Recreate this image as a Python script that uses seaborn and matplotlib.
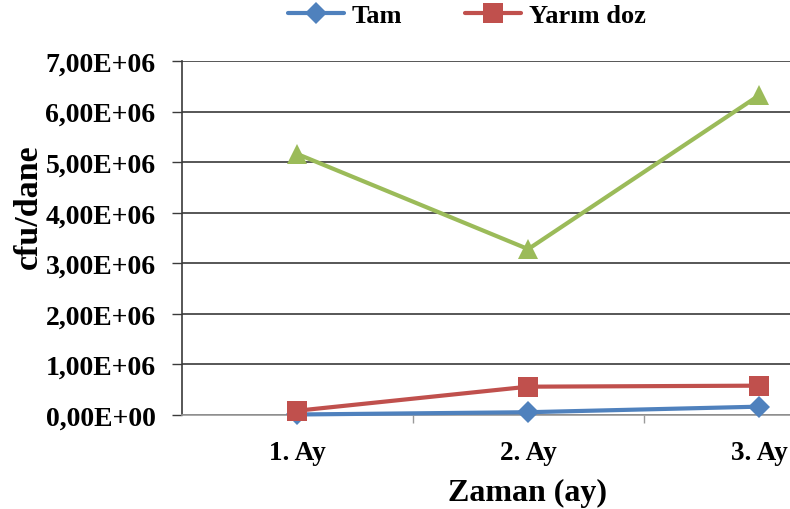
import matplotlib
matplotlib.use("Agg")
import matplotlib.pyplot as plt
from matplotlib.ticker import FuncFormatter, FixedLocator
import seaborn as sns
import pandas as pd

# Örnekleme ayları ve cfu/dane değerleri
aylar = ["1. Ay", "2. Ay", "3. Ay"]
tam = [0.01e6, 0.055e6, 0.165e6]
yarim_doz = [0.085e6, 0.56e6, 0.58e6]
seri3 = [5.16e6, 3.28e6, 6.32e6]
y_ticks = [0, 1e6, 2e6, 3e6, 4e6, 5e6, 6e6, 7e6]

sns.set_theme(style="white")
plt.rcParams["font.family"] = ["Liberation Serif", "DejaVu Serif"]
plt.rcParams["font.weight"] = "bold"
plt.rcParams["text.color"] = "black"

fig = plt.figure(figsize=(7.9, 5.1), dpi=100)
ax = fig.add_axes([182 / 790, (510 - 416) / 510, 1 - 182 / 790, (416 - 62) / 510])

series = [
    ("Tam", tam, "#4F81BD", "D", 11.5),
    ("Yarım doz", yarim_doz, "#C0504D", "s", 14.5),
    ("_seri3", seri3, "#9BBB59", "^", 14),
]
for name, vals, color, marker, ms in series:
    df = pd.DataFrame({"ay": aylar, "cfu": vals})
    sns.lineplot(data=df, x="ay", y="cfu", ax=ax, color=color, linewidth=3,
                 marker=marker, markersize=ms, markeredgewidth=0,
                 label=name, clip_on=False, zorder=3, sort=False)

ax.set_xlim(-0.5, (790 - 297.5) / 230.75)
ax.set_ylim(0, 7e6)

ax.yaxis.set_major_locator(FixedLocator(y_ticks))
ax.yaxis.set_major_formatter(FuncFormatter(
    lambda v, p: f"{v / 1e6:.2f}E+{6 if v else 0:02d}".replace(".", ",")))
ax.grid(axis="y", color="#3a3a3a", linewidth=1.2)
ax.grid(axis="x", visible=False)

for s in ["top", "right"]:
    ax.spines[s].set_visible(False)
ax.spines["left"].set_color("#3a3a3a")
ax.spines["left"].set_linewidth(1.2)
ax.spines["bottom"].set_color("#9a9a9a")
ax.spines["bottom"].set_linewidth(1.2)

ax.tick_params(axis="y", which="major", direction="out", length=7, width=1,
               color="#3a3a3a", left=True, labelsize=20, pad=12,
               labelcolor="black")
ax.tick_params(axis="x", which="major", length=0, labelsize=19.5, pad=18,
               labelcolor="black")
ax.set_xticks([0.5, 1.5], minor=True)
ax.tick_params(axis="x", which="minor", direction="out", length=6, width=1,
               color="#9a9a9a", bottom=True)
for lbl in ax.get_xticklabels() + ax.get_yticklabels():
    lbl.set_fontweight("bold")

ax.set_xlabel("Zaman (ay)", fontsize=23, fontweight="bold", color="black")
ax.set_ylabel("cfu/dane", fontsize=24.5, fontweight="bold", color="black")
ax.xaxis.set_label_coords((528 - 182) / (790 - 182), -(493 - 416) / 354)
ax.xaxis.label.set_va("center")
ax.yaxis.set_label_coords(-(182 - 28) / (790 - 182), (416 - 207) / 354)
ax.yaxis.label.set_va("center")

handles, labels = ax.get_legend_handles_labels()
ax.legend_.remove()
fig.legend(handles, labels, loc="center", ncol=2, frameon=False,
           bbox_to_anchor=(467 / 790, 1 - 16 / 510),
           prop={"family": "Liberation Serif", "size": 19, "weight": "bold"},
           handlelength=2.1, handletextpad=0.3, columnspacing=2.4,
           borderpad=0, borderaxespad=0)

fig.savefig("out.png", dpi=100)
